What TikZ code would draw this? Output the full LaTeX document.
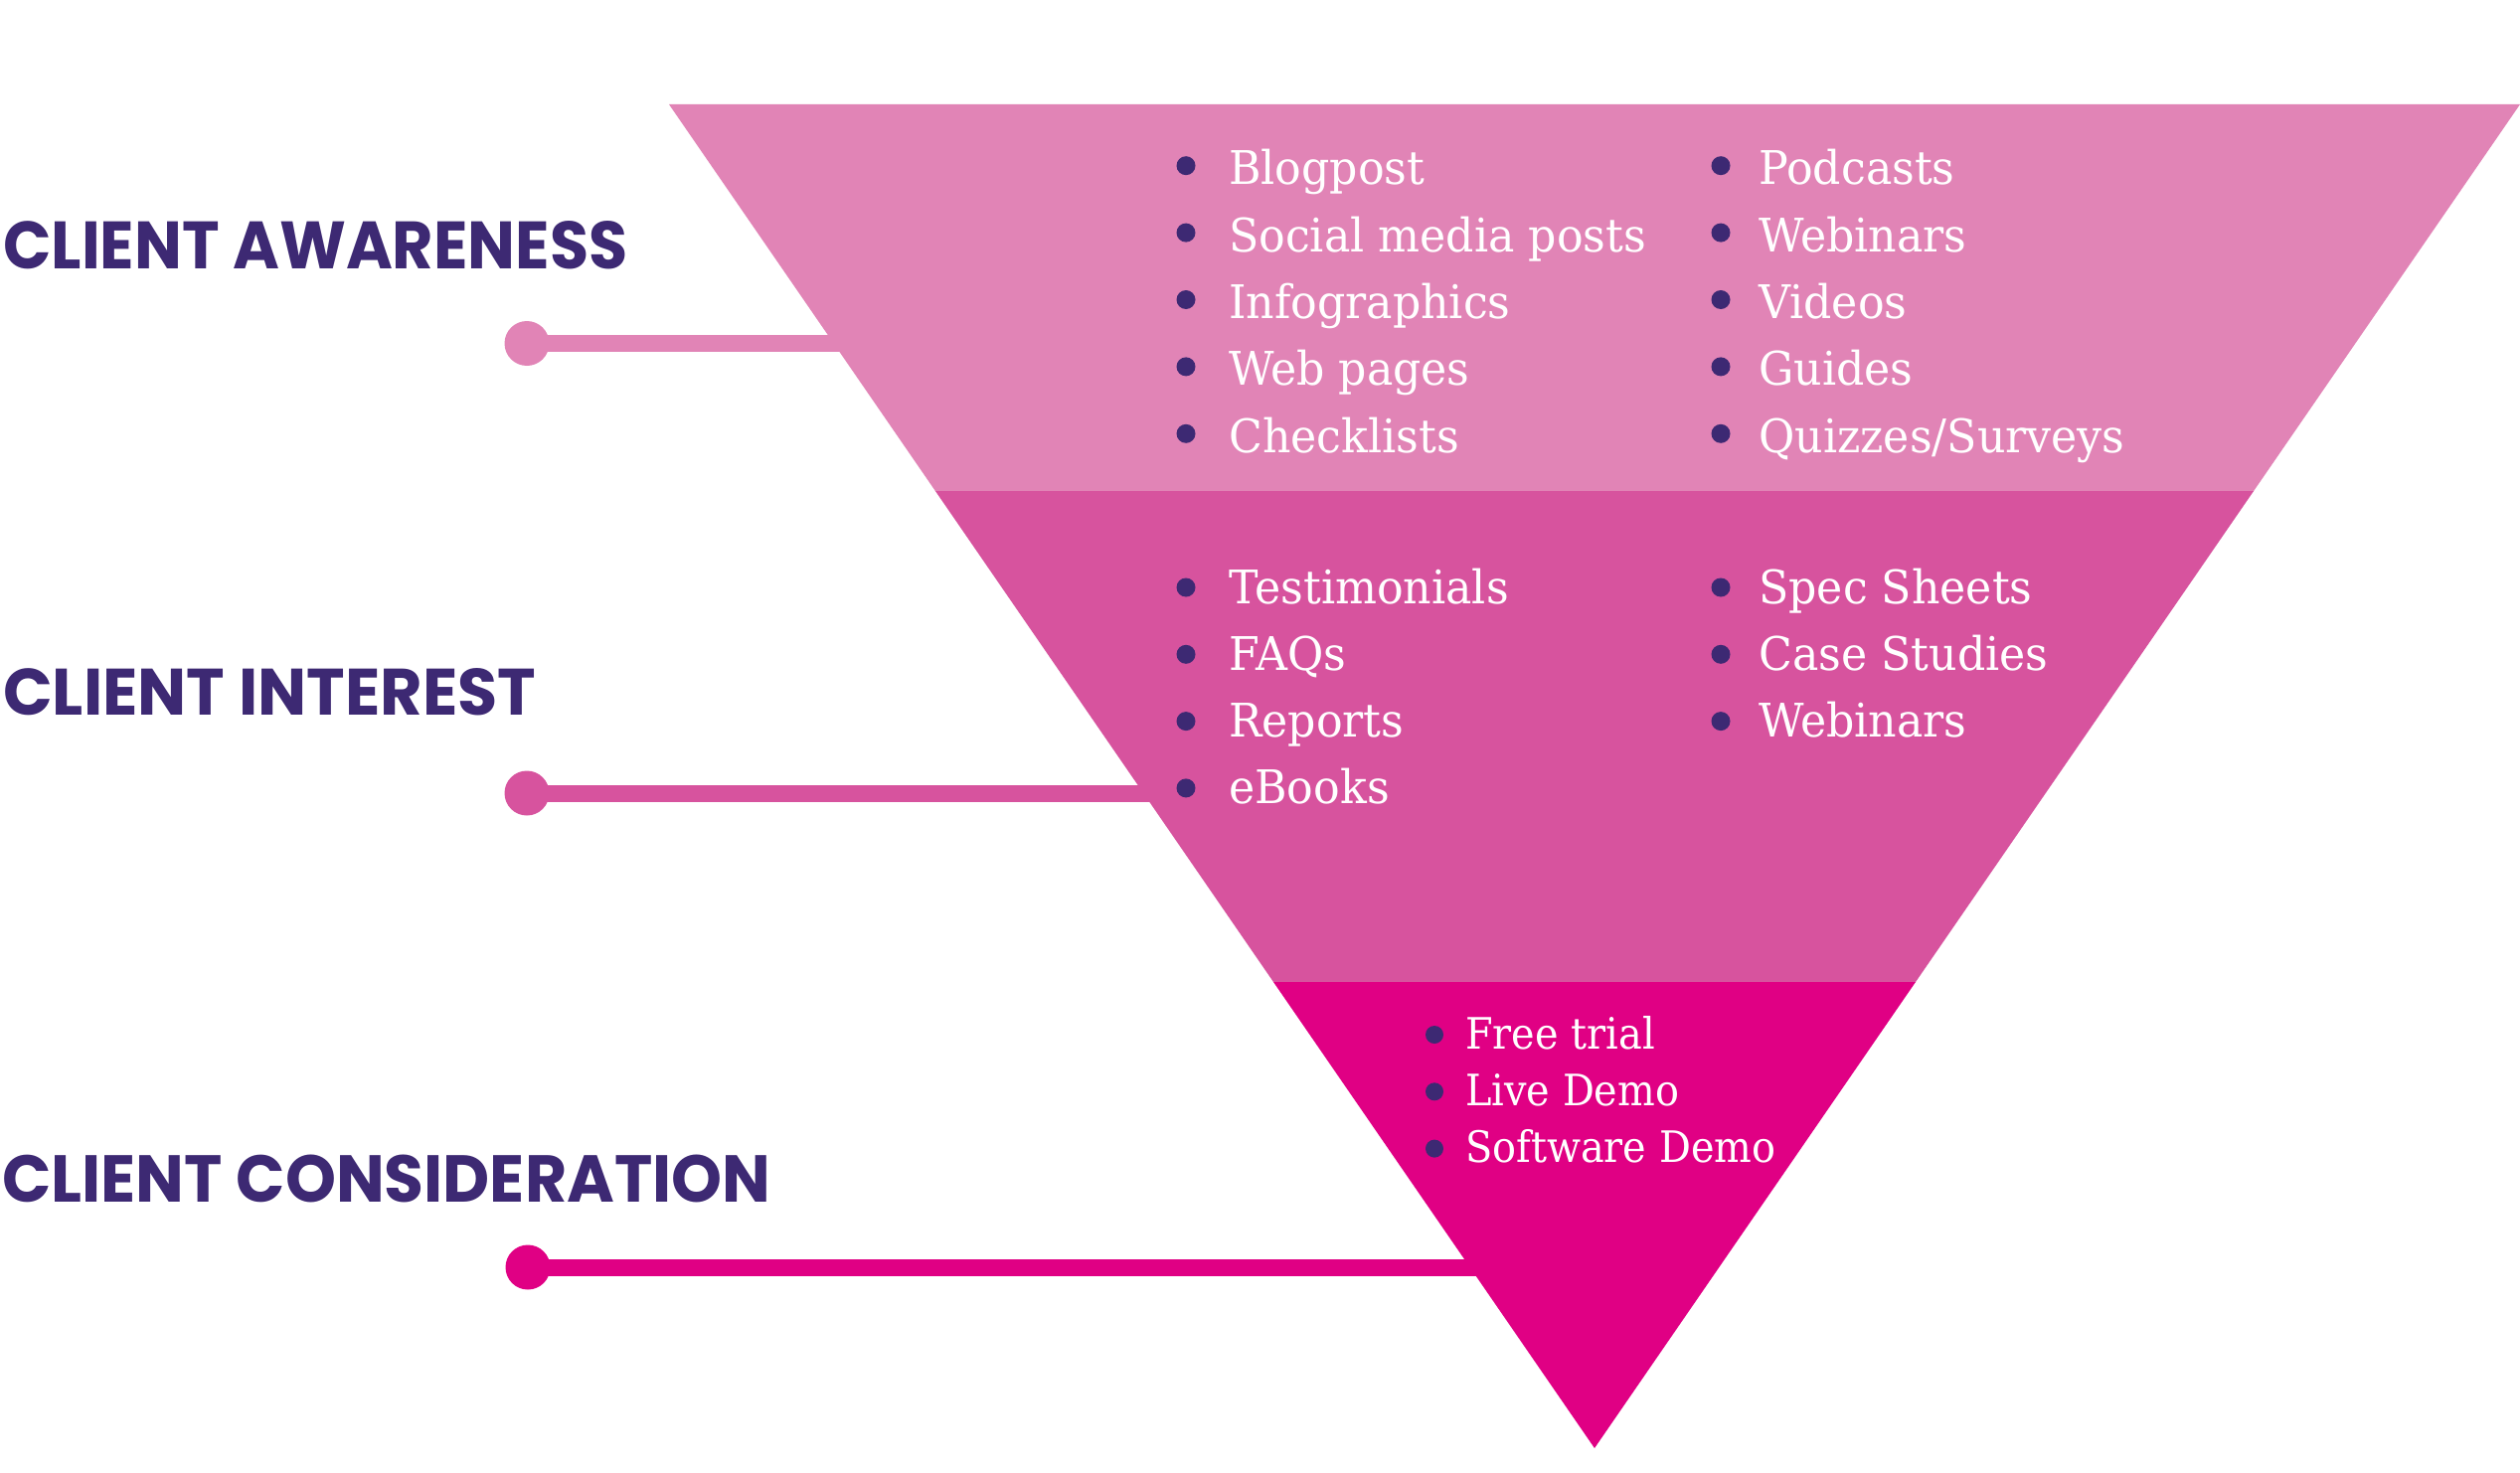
\documentclass[tikz,border=0pt]{standalone}
\usepackage{fontspec}
\newfontfamily\headfont{Poppins}
\newfontfamily\listfont{DejaVu Serif}[FakeStretch=0.95]
\newfontfamily\listfontb{DejaVu Serif}[FakeStretch=0.915]
\definecolor{bandA}{HTML}{E184B6}
\definecolor{bandB}{HTML}{D7539E}
\definecolor{bandC}{HTML}{E00084}
\definecolor{deeppurple}{HTML}{3D2973}
\tikzset{
  dot/.style={circle, fill=deeppurple, minimum size=19pt, inner sep=0pt},
  lst/.style={font=\listfont\fontsize{46.6}{50}\selectfont, text=white, inner sep=0pt, anchor=base west},
  lstsmall/.style={font=\listfontb\fontsize{43.5}{47}\selectfont, text=white, inner sep=0pt, anchor=base west},
  head/.style={inner sep=0pt, anchor=base west, text=deeppurple},
  enddot/.style={circle, minimum size=45pt, inner sep=0pt},
  conn/.style={line width=17pt}
}
\begin{document}
\begin{tikzpicture}[x=1pt,y=-1pt]
\useasboundingbox (0,0) rectangle (2535,1482);
% headings
\node[head] (h1) at (3,270) {\resizebox{628pt}{48pt}{\headfont\bfseries CLIENT AWARENESS}};
\node[head] (h2) at (3,719) {\resizebox{536pt}{47pt}{\headfont\bfseries CLIENT INTEREST}};
\node[head] (h3) at (2,1209) {\resizebox{773pt}{47.5pt}{\headfont\bfseries CLIENT CONSIDERATION}};
% connectors
\node[enddot, fill=bandA] (d1) at (530,345.5) {};
\node[enddot, fill=bandB] (d2) at (530,798) {};
\node[enddot, fill=bandC] (d3) at (531,1275) {};
\coordinate (e1) at (860,345.5);
\coordinate (e2) at (1170,798);
\coordinate (e3) at (1500,1275);
\draw[conn, bandA] (d1.center) -- (e1);
\draw[conn, bandB] (d2.center) -- (e2);
\draw[conn, bandC] (d3.center) -- (e3);
% funnel bands
\fill[bandA] (673,105) -- (2535,105) -- (2267.1,494) -- (940.9,494) -- cycle;
\fill[bandB] (940.9,494) -- (2267.1,494) -- (1927,988) -- (1281,988) -- cycle;
\fill[bandC] (1281,988) -- (1927,988) -- (1604,1457) -- cycle;
% band 1
\foreach \t [count=\i from 0] in {Blogpost,Social media posts,Infographics,Web pages,Checklists}{
  \node[dot] (ba\i) at (1193,166.7+67.4*\i) {};
  \node[lst] (ta\i) at (1236,185.7+67.4*\i) {\t};
}
\foreach \t [count=\i from 0] in {Podcasts,Webinars,Videos,Guides,Quizzes/Surveys}{
  \node[dot] (bb\i) at (1731,166.7+67.4*\i) {};
  \node[lst] (tb\i) at (1769,185.7+67.4*\i) {\t};
}
% band 2
\foreach \t [count=\i from 0] in {Testimonials,FAQs,Reports,eBooks}{
  \node[dot] (bc\i) at (1193,591+67.3*\i) {};
  \node[lst] (tc\i) at (1236,607+67.3*\i) {\t};
}
\foreach \t [count=\i from 0] in {Spec Sheets,Case Studies,Webinars}{
  \node[dot] (bd\i) at (1731,591+67.3*\i) {};
  \node[lst] (td\i) at (1769,607+67.3*\i) {\t};
}
% band 3
\foreach \t [count=\i from 0] in {Free trial,Live Demo,Software Demo}{
  \node[dot, minimum size=18pt] (be\i) at (1443,1041+57.3*\i) {};
  \node[lstsmall] (te\i) at (1474,1055+57.3*\i) {\t};
}
\end{tikzpicture}
\end{document}
